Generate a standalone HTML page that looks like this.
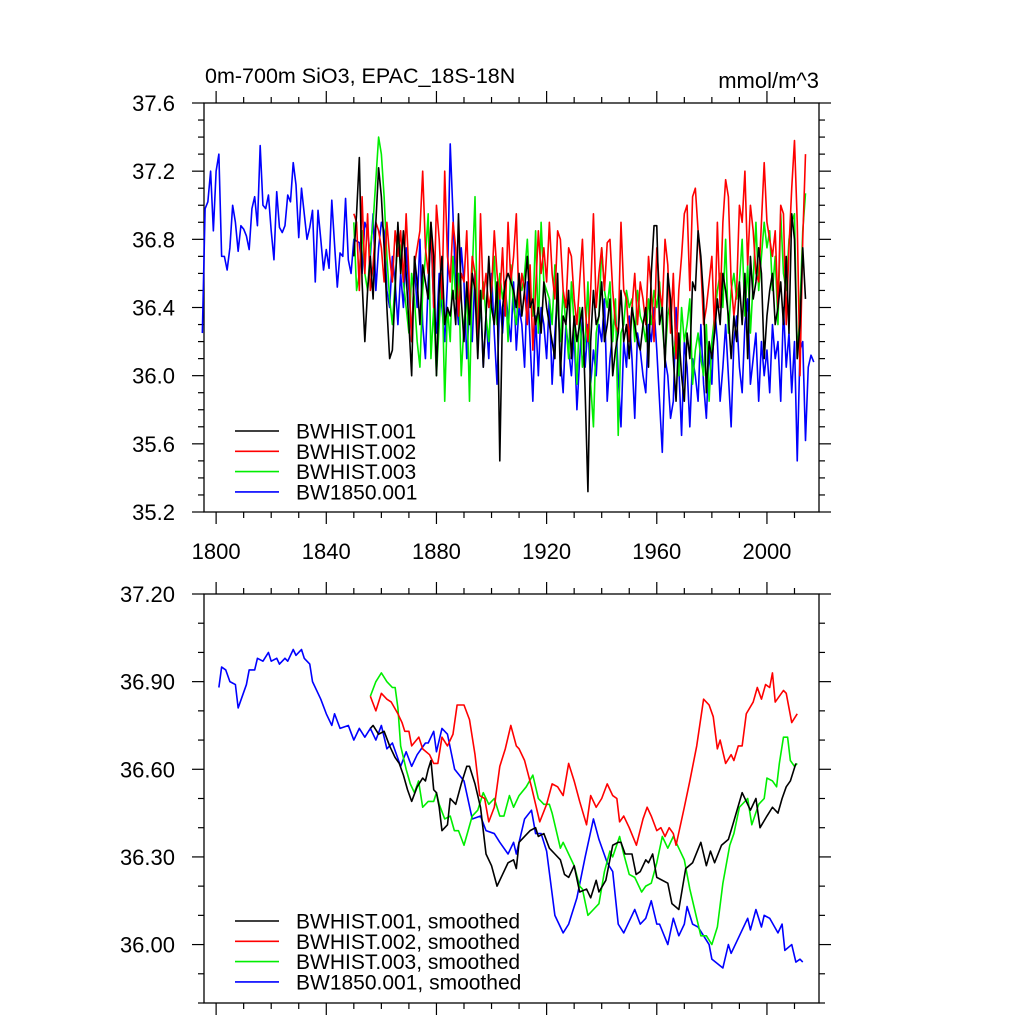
<!DOCTYPE html>
<html><head><meta charset="utf-8"><style>
html,body{margin:0;padding:0;background:#fff;}
svg{display:block;font-family:"Liberation Sans",sans-serif;}
</style></head><body>
<svg id="chart" width="1024" height="1024" viewBox="0 0 1024 1024">
<text x="205" y="83" font-size="21.5">0m-700m SiO3, EPAC_18S-18N</text>
<text x="819" y="88" font-size="22" text-anchor="end">mmol/m^3</text>
<g id="topPanel"></g>
<g id="botPanel"></g>
</svg>
<script>
// ---- data ----
const xMin = 1795.6, xMax = 2018.9;
const xTicks = [1800, 1840, 1880, 1920, 1960, 2000];
const topYTicks = [35.2, 35.6, 36.0, 36.4, 36.8, 37.2, 37.6];
const topYLabels = ["35.2", "35.6", "36.0", "36.4", "36.8", "37.2", "37.6"];
const botYTicks = [36.0, 36.3, 36.6, 36.9, 37.2];
const botYLabels = ["36.00", "36.30", "36.60", "36.90", "37.20"];
const histStart = 1850;
const blueStart = 1795;
const hist001 = [36.7,36.95,37.28,36.55,36.2,36.5,36.7,36.45,36.9,37.22,
37.05,36.75,36.4,36.1,36.15,36.5,36.9,36.6,36.85,36.6,
36.3,36.0,36.7,36.55,36.3,36.65,36.55,36.45,36.9,36.7,
36.0,36.5,36.7,36.3,36.4,36.35,36.5,36.3,36.95,36.45,
36.2,36.55,36.3,36.6,36.5,36.1,36.5,36.05,36.35,36.7,
36.4,36.3,36.55,35.5,36.4,36.55,36.6,36.55,36.5,36.4,
36.6,36.35,36.5,36.7,36.4,36.45,36.3,36.4,36.25,36.55,
36.4,36.3,36.2,36.1,36.6,36.0,36.35,36.3,36.5,36.1,
36.35,36.2,36.3,36.4,35.9,35.32,36.2,36.5,36.3,36.35,
36.55,36.2,36.3,36.45,36.0,36.15,36.25,36.5,36.2,36.3,
36.1,36.4,36.3,36.2,36.15,36.3,36.4,36.05,36.6,36.88,
36.88,36.3,36.4,36.05,36.6,36.45,36.1,35.85,36.25,36.0,
35.85,36.25,36.1,36.55,36.5,36.85,36.7,36.45,35.9,36.2,
36.1,36.25,36.45,36.3,36.6,36.5,36.35,36.1,36.35,36.2,
36.55,36.3,36.6,36.1,36.7,36.45,36.55,36.75,36.6,36.1,
36.35,36.5,36.6,36.3,36.4,36.55,36.3,36.7,36.25,36.95,
36.8,36.1,36.3,36.75,36.45];
const hist002 = [36.95,36.9,36.5,37.05,36.6,36.95,36.5,36.65,36.9,36.85,
36.75,36.55,36.9,36.7,36.55,36.85,36.7,36.85,36.55,36.95,
36.6,36.2,36.65,36.75,36.85,37.2,36.75,36.6,36.9,36.4,
37.0,36.8,36.45,37.2,36.7,36.55,36.9,36.75,36.35,36.6,
36.55,36.85,36.35,36.7,36.6,36.15,36.95,36.45,36.6,36.4,
36.5,36.85,36.6,36.45,36.75,36.35,36.9,36.55,36.7,36.95,
36.4,36.6,36.5,36.3,36.65,36.15,36.5,36.85,36.6,36.75,
36.55,36.9,36.6,36.45,36.85,36.8,36.5,36.4,36.75,36.7,
36.45,36.3,36.55,36.8,36.4,36.2,36.5,36.95,36.4,36.6,
36.75,36.5,36.78,36.8,36.5,36.3,36.25,36.9,36.5,36.45,
36.2,36.4,36.6,36.3,36.55,36.45,36.3,36.7,36.5,36.2,
36.75,36.5,36.4,36.8,36.65,36.25,36.6,36.1,36.5,36.7,
36.95,37.0,36.5,37.05,37.1,36.85,36.65,36.3,36.4,36.55,
36.7,36.25,36.9,36.4,36.9,37.15,37.05,36.55,36.35,36.5,
37.0,36.9,37.2,36.65,37.0,36.85,36.6,36.55,36.9,37.25,
36.9,36.8,36.7,36.85,36.4,37.0,36.95,36.3,36.75,37.1,
37.38,36.9,36.0,36.8,37.3];
const hist003 = [36.9,36.5,36.6,36.85,36.6,36.5,36.75,36.9,37.15,37.4,
37.3,37.05,36.7,36.45,36.3,36.55,36.8,36.75,36.55,36.4,
36.25,36.6,36.45,36.2,36.05,36.5,36.7,36.95,36.1,36.4,
36.0,36.3,36.6,35.85,36.4,36.2,36.7,36.45,36.6,36.0,
36.3,36.5,35.85,36.6,37.05,36.2,36.4,36.55,36.35,36.2,
36.5,36.7,36.3,36.6,36.45,36.55,36.2,36.65,36.4,36.3,
36.55,36.5,36.6,36.8,36.45,36.35,36.85,36.25,36.9,36.55,
36.5,36.45,36.3,36.65,36.4,36.2,36.5,36.3,36.1,36.55,
36.3,35.95,36.4,36.05,36.2,36.55,35.95,35.7,36.25,36.35,
36.75,36.5,36.4,36.55,36.2,36.45,35.65,36.25,36.3,36.5,
36.4,36.45,36.2,36.5,36.35,36.3,36.2,36.45,36.3,36.5,
36.4,36.55,36.3,36.1,36.35,36.45,36.1,36.25,36.0,36.4,
36.2,36.3,36.45,35.95,36.15,36.25,36.1,36.0,36.3,35.85,
36.2,36.35,36.5,36.6,36.4,36.8,36.25,36.5,36.6,36.45,
36.55,36.8,36.35,36.65,36.25,36.55,36.9,36.5,36.7,36.9,
36.75,36.85,36.5,36.7,36.3,36.95,36.6,36.5,36.8,36.9,
36.95,36.1,36.4,36.85,37.07];
const bw1850 = [36.25,36.98,37.02,37.2,36.85,37.2,37.3,36.7,36.7,36.62,
36.75,37.0,36.9,36.73,36.88,36.86,36.82,36.74,36.98,37.05,
36.88,37.35,37.0,36.98,37.06,36.85,36.68,37.08,36.87,36.84,
36.88,37.06,37.02,37.25,37.12,36.81,37.1,36.95,36.8,36.87,
36.97,36.55,36.97,36.8,36.62,36.74,36.63,37.03,36.77,36.52,
36.72,36.7,37.04,36.68,36.6,36.8,36.79,36.78,
36.6,36.9,36.85,36.7,36.95,36.5,36.75,
36.9,36.85,36.5,36.4,36.7,36.55,36.3,36.6,36.4,36.75,
36.5,36.2,36.65,36.4,36.8,36.3,36.1,36.55,36.85,36.4,
36.25,36.6,36.4,36.2,36.55,37.36,36.95,36.5,36.3,36.75,
36.55,36.1,36.4,36.2,36.6,36.3,36.45,36.05,36.35,36.1,
36.6,36.25,35.95,36.45,36.25,36.5,36.35,36.2,36.55,36.15,
36.4,36.3,36.05,36.55,36.2,35.85,36.35,36.0,36.4,36.3,
36.1,36.45,35.95,36.25,36.5,36.1,35.9,36.3,36.15,36.0,
36.25,35.8,36.1,36.35,36.05,36.3,35.95,36.15,36.0,36.3,
36.2,36.45,35.85,36.1,36.25,36.4,36.0,35.7,36.2,36.05,
36.35,36.1,35.75,36.25,36.15,36.0,35.9,36.3,36.2,36.4,
36.15,35.85,35.55,36.1,36.0,35.75,35.85,36.4,36.05,35.65,
36.2,36.05,35.7,36.1,36.0,35.85,36.3,35.95,35.75,36.15,
35.95,36.4,36.2,35.85,36.05,36.3,36.0,35.7,36.2,36.35,
36.05,35.9,36.3,36.45,35.95,36.1,36.25,35.85,36.2,36.0,
36.15,35.9,36.3,36.1,36.2,35.85,36.4,36.05,36.25,35.9,
36.2,35.5,36.15,36.2,35.62,36.05,36.12,36.08];
const sm001Years = [1856,1857,1859,1861,1863,1865,1866.5,1868,1869.5,1871,1873,1875,1876,1877,1878,1879,1880,1881,1882,1884,1885,1887,1889,1891,1892,1894,1896,1898,1900,1902,1904,1906,1908,1909,1910,1912,1914,1916,1917,1919,1921,1923,1925,1926.5,1928,1930,1932,1934.5,1936,1938,1939,1941.5,1944,1946,1947,1948.5,1951,1952.5,1954,1956,1957,1958.5,1960,1964,1965.5,1968,1970.5,1973,1976,1978,1979.5,1981,1983.5,1986,1987.6,1991,1994,1996,1997.5,2000,2002,2004,2005.5,2007,2008.5,2010.5];
const sm001Vals = [36.74,36.75,36.72,36.73,36.68,36.64,36.62,36.58,36.53,36.49,36.54,36.57,36.56,36.60,36.63,36.53,36.52,36.47,36.39,36.41,36.50,36.48,36.55,36.61,36.61,36.55,36.47,36.31,36.27,36.20,36.24,36.28,36.29,36.26,36.35,36.37,36.39,36.40,36.37,36.38,36.33,36.31,36.29,36.24,36.23,36.27,36.18,36.19,36.16,36.22,36.18,36.22,36.34,36.35,36.35,36.31,36.31,36.24,36.25,36.29,36.28,36.31,36.23,36.21,36.14,36.12,36.26,36.28,36.35,36.27,36.32,36.28,36.34,36.36,36.41,36.52,36.46,36.50,36.40,36.44,36.47,36.45,36.50,36.54,36.56,36.62];
const sm002Years = [1856,1858,1860,1862,1863.6,1866,1867.5,1868.5,1870,1871,1873.6,1875,1877.5,1879,1880.5,1882,1884,1886,1887.5,1890,1892,1894,1895.7,1897.5,1899,1901,1903,1905,1907,1909,1910,1912,1914.5,1917.5,1920,1922,1924,1926,1928,1930,1932,1934.5,1936,1938,1940,1942,1944,1945.5,1946.5,1948,1950,1952.6,1955,1956.5,1958,1960,1961.5,1963,1964.5,1966,1967,1970,1972,1974.5,1977,1979,1980.5,1982,1983,1985,1987,1988,1989.6,1991,1992.5,1995,1996.5,1998,1999.5,2001,2002,2003,2006,2007,2009,2011];
const sm002Vals = [36.85,36.80,36.86,36.84,36.83,36.79,36.76,36.73,36.73,36.68,36.71,36.67,36.65,36.62,36.62,36.71,36.68,36.72,36.82,36.82,36.77,36.65,36.51,36.50,36.42,36.47,36.61,36.67,36.75,36.68,36.67,36.63,36.54,36.42,36.48,36.55,36.54,36.51,36.62,36.56,36.49,36.41,36.51,36.47,36.50,36.55,36.51,36.50,36.42,36.44,36.40,36.34,36.43,36.47,36.44,36.39,36.40,36.37,36.40,36.38,36.34,36.47,36.56,36.68,36.84,36.82,36.78,36.67,36.70,36.62,36.65,36.63,36.68,36.68,36.79,36.83,36.88,36.84,36.89,36.88,36.93,36.83,36.87,36.86,36.76,36.79];
const sm003Years = [1856,1858,1860,1862,1864,1865,1866,1867,1869,1870.5,1872,1873.5,1875,1877,1879,1880,1881,1883,1885,1886.5,1888,1890,1893,1895,1897,1899,1901,1903,1904.5,1906.5,1908,1910,1912.6,1915,1917,1919,1921,1922,1925,1926,1929,1930,1932,1933,1935,1937,1939,1941,1943,1944,1946.5,1948,1950,1952,1954.5,1956,1958,1960,1962,1964,1966,1968,1970,1972,1974.5,1976,1978,1980,1982,1984,1986.5,1988,1990,1993,1994.5,1997,1999,2000,2002,2003.5,2004.5,2006,2007.5,2008.5,2010,2011];
const sm003Vals = [36.85,36.90,36.93,36.90,36.88,36.88,36.81,36.68,36.60,36.55,36.52,36.56,36.47,36.49,36.49,36.52,36.48,36.43,36.44,36.39,36.39,36.34,36.44,36.46,36.52,36.48,36.50,36.44,36.44,36.51,36.47,36.51,36.54,36.58,36.50,36.48,36.48,36.45,36.33,36.35,36.29,36.27,36.20,36.19,36.10,36.12,36.14,36.25,36.32,36.30,36.37,36.31,36.24,36.23,36.18,36.20,36.21,36.28,36.37,36.33,36.37,36.33,36.29,36.19,36.09,36.03,36.03,36.00,36.06,36.21,36.34,36.38,36.47,36.50,36.41,36.48,36.50,36.57,36.56,36.54,36.62,36.71,36.71,36.63,36.61,36.62];
const sm1850Years = [1801,1802,1803.5,1805,1807,1808,1811,1812,1814,1815,1817,1819,1820,1822,1823,1825,1826,1828,1829,1831,1832,1834,1835,1837,1838,1840,1842,1843,1845,1848,1850,1852,1854,1856,1858,1860,1862,1864,1867,1869,1871,1873,1876,1877,1879,1880,1882,1884,1886.6,1890,1893,1896,1898,1901,1903,1906,1908,1909,1912,1914.5,1916,1918,1920,1923,1926,1928,1931,1934,1937,1939,1942,1944,1946,1948,1949,1952,1954,1956,1958,1960,1961,1964,1966,1968,1970,1971,1973,1975,1977,1979,1980,1984,1986,1987,1990,1993,1994,1996,1998,1999,2001,2004,2005.5,2006.5,2009,2010.5,2012,2013];
const sm1850Vals = [36.88,36.95,36.94,36.90,36.89,36.81,36.89,36.94,36.94,36.98,36.97,37.00,36.97,36.98,36.96,36.98,36.97,37.01,36.99,37.01,36.98,36.96,36.90,36.86,36.84,36.79,36.75,36.79,36.74,36.75,36.70,36.74,36.71,36.74,36.70,36.75,36.67,36.69,36.61,36.66,36.61,36.65,36.69,36.69,36.73,36.66,36.74,36.72,36.60,36.56,36.43,36.44,36.39,36.38,36.35,36.31,36.35,36.31,36.43,36.46,36.38,36.38,36.32,36.10,36.04,36.07,36.16,36.30,36.43,36.36,36.28,36.25,36.07,36.04,36.06,36.12,36.07,36.09,36.15,36.07,36.07,36.00,36.09,36.03,36.07,36.13,36.07,36.06,36.03,36.00,35.95,35.92,36.00,35.97,36.03,36.09,36.05,36.12,36.06,36.10,36.09,36.04,36.07,35.98,36.00,35.94,35.95,35.94];

// ---- drawing ----
const NS = "http://www.w3.org/2000/svg";
function mk(parent, tag, attrs) {
  const e = document.createElementNS(NS, tag);
  for (const k in attrs) e.setAttribute(k, attrs[k]);
  parent.appendChild(e);
  return e;
}
const LX = 204, RX = 819;
function xs(yr) { return LX + (yr - xMin) / (xMax - xMin) * (RX - LX); }

function panel(g, y0, y1, yMin, yMax, yTicks, yLabels, minorStep, showXLabels) {
  const ys = v => y1 - (v - yMin) / (yMax - yMin) * (y1 - y0);
  const axis = mk(g, "g", {stroke: "#000", "stroke-width": 1.2});
  
  
  const frame = mk(g, "rect", {x: LX, y: y0, width: RX - LX, height: y1 - y0, fill: "none", stroke: "#000", "stroke-width": 1.3});
  
  
  const nMinor = Math.round((yMax - yMin) / minorStep);
  for (let i = 0; i <= nMinor; i++) {
    const v = yMin + i * minorStep;
    const isMajor = yTicks.some(t => Math.abs(t - v) < 1e-6);
    const len = isMajor ? 12 : 6;
    const y = ys(v);
    mk(axis, "line", {x1: LX - len, x2: LX, y1: y, y2: y});
    mk(axis, "line", {x1: RX, x2: RX + len, y1: y, y2: y});
  }
  yTicks.forEach((t, i) => {
    const tx = mk(g, "text", {x: 175, y: ys(t) + 8, "font-size": 22, "text-anchor": "end"});
    tx.textContent = yLabels[i];
    
    
  });
  for (let yr = 1800; yr <= 2010; yr += 10) {
    const isMajor = xTicks.includes(yr);
    const len = isMajor ? 12 : 6;
    const x = xs(yr);
    mk(axis, "line", {x1: x, x2: x, y1: y1, y2: y1 + len});
    mk(axis, "line", {x1: x, x2: x, y1: y0 - len, y2: y0});
  }
  if (showXLabels) {
    xTicks.forEach(t => {
      const tx = mk(g, "text", {x: xs(t), y: y1 + 47, "font-size": 22, "text-anchor": "middle"});
      tx.textContent = String(t);
      
      
    });
  }
  return ys;
}
function series(g, years, vals, ys, color, name) {
  const pts = vals.map((v, i) => xs(years[i]).toFixed(2) + "," + ys(v).toFixed(2)).join(" ");
  const p = mk(g, "polyline", {points: pts, fill: "none", stroke: color, "stroke-width": 1.6, "stroke-linejoin": "round"});
  
  
}
function legend(g, yStart, labels, colors) {
  labels.forEach((lab, i) => {
    const y = yStart + i * 20.3;
    const ln = mk(g, "line", {x1: 235, x2: 279, y1: y, y2: y, stroke: colors[i], "stroke-width": 1.6});
    
    
    const t = mk(g, "text", {x: 296, y: y + 7.5, "font-size": 21});
    t.textContent = lab;
    
    
  });
}
const seriesColors = ["#000", "#ff0000", "#00ee00", "#0000ff"];
const topG = document.getElementById("topPanel");
const ysT = panel(topG, 103, 512, 35.2, 37.6, topYTicks, topYLabels, 0.1, true);
const yrH = hist001.map((_, i) => histStart + i);
const yrB = bw1850.map((_, i) => blueStart + i);
series(topG, yrB, bw1850, ysT, seriesColors[3], "line-bw1850-001");
series(topG, yrH, hist003, ysT, seriesColors[2], "line-bwhist-003");
series(topG, yrH, hist002, ysT, seriesColors[1], "line-bwhist-002");
series(topG, yrH, hist001, ysT, seriesColors[0], "line-bwhist-001");
legend(topG, 431, ["BWHIST.001", "BWHIST.002", "BWHIST.003", "BW1850.001"], seriesColors);

const botG = document.getElementById("botPanel");
const ysB = panel(botG, 594, 1003, 35.8, 37.2, botYTicks, botYLabels, 0.1, false);
series(botG, sm1850Years, sm1850Vals, ysB, seriesColors[3], "line-bw1850-001-smoothed");
series(botG, sm003Years, sm003Vals, ysB, seriesColors[2], "line-bwhist-003-smoothed");
series(botG, sm002Years, sm002Vals, ysB, seriesColors[1], "line-bwhist-002-smoothed");
series(botG, sm001Years, sm001Vals, ysB, seriesColors[0], "line-bwhist-001-smoothed");
legend(botG, 921, ["BWHIST.001, smoothed", "BWHIST.002, smoothed", "BWHIST.003, smoothed", "BW1850.001, smoothed"], seriesColors);
</script>
</body></html>
